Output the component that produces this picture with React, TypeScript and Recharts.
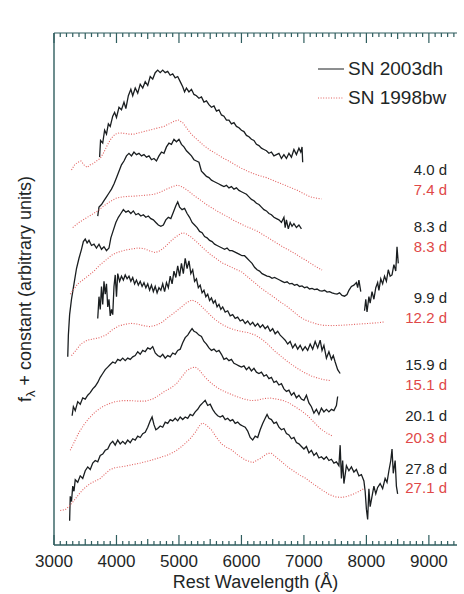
import { Legend, Line, LineChart, ReferenceLine, XAxis, YAxis } from 'recharts'

type Pt = [number, number | null]

// SN 2003dh (black) and SN 1998bw (red) spectra, wavelength (Å) vs offset flux
const SN03_4_0: Pt[] = [
  [3730, 15.15], [3745, 15.8], [3780, 15.7], [3810, 16.2], [3840, 16.05], [3870, 16.45], [3900, 16.35],
  [3940, 16.75], [3970, 16.9], [4000, 16.7], [4040, 17.1], [4080, 17.0], [4120, 17.3], [4150, 17.05],
  [4190, 17.55], [4230, 17.8], [4260, 17.55], [4300, 17.85], [4340, 17.65], [4380, 18.0], [4420, 17.85],
  [4460, 18.1], [4500, 17.95], [4540, 18.3], [4580, 18.2], [4620, 18.45], [4660, 18.55], [4700, 18.45],
  [4740, 18.55], [4780, 18.45], [4820, 18.5], [4860, 18.35], [4900, 18.4], [4940, 18.25], [4980, 18.3],
  [5020, 18.1], [5060, 17.9], [5090, 17.7], [5120, 17.85], [5160, 17.7], [5200, 17.8], [5240, 17.6],
  [5280, 17.55], [5320, 17.45], [5360, 17.5], [5400, 17.3], [5440, 17.35], [5480, 17.2], [5520, 17.1],
  [5560, 17.15], [5600, 16.95], [5640, 17.0], [5680, 16.8], [5720, 16.75], [5760, 16.6], [5800, 16.6],
  [5840, 16.45], [5880, 16.5], [5920, 16.35], [5960, 16.3], [6000, 16.2], [6040, 16.15], [6080, 16.0],
  [6120, 15.95], [6160, 15.85], [6200, 15.8], [6240, 15.65], [6280, 15.6], [6320, 15.5], [6360, 15.45],
  [6400, 15.4], [6440, 15.3], [6480, 15.35], [6520, 15.2], [6560, 15.25], [6600, 15.3], [6640, 15.1],
  [6680, 15.25], [6720, 15.1], [6760, 15.3], [6800, 15.15], [6840, 15.45], [6880, 15.25], [6920, 15.5],
  [6950, 15.35], [6970, 15.55], [6980, 14.95],
]

const SN98_7_4: Pt[] = [
  [3280, 14.65], [3330, 14.85], [3380, 14.95], [3430, 15.0], [3480, 14.85], [3530, 14.75], [3580, 14.85],
  [3630, 14.9], [3680, 15.0], [3740, 15.1], [3800, 15.35], [3860, 15.65], [3920, 15.9], [3980, 16.05],
  [4050, 16.1], [4120, 16.08], [4200, 16.05], [4280, 16.05], [4360, 16.1], [4440, 16.15], [4520, 16.2],
  [4600, 16.25], [4680, 16.3], [4760, 16.35], [4840, 16.45], [4920, 16.55], [4990, 16.6], [5060, 16.5],
  [5120, 16.3], [5180, 16.1], [5240, 15.95], [5300, 15.82], [5400, 15.6], [5500, 15.42], [5600, 15.28],
  [5700, 15.12], [5800, 15.0], [5900, 14.85], [6000, 14.72], [6100, 14.6], [6200, 14.5], [6300, 14.42],
  [6400, 14.35], [6500, 14.25], [6600, 14.15], [6700, 14.05], [6800, 13.95], [6900, 13.85], [7000, 13.72],
  [7100, 13.6], [7200, 13.55], [7280, 13.52],
]

const SN03_8_3: Pt[] = [
  [3700, 12.85], [3720, 13.2], [3760, 13.3], [3800, 13.45], [3840, 13.6], [3880, 13.75], [3920, 13.9],
  [3960, 14.1], [4000, 14.35], [4040, 14.6], [4080, 14.85], [4120, 15.0], [4160, 15.2], [4200, 15.3],
  [4240, 15.2], [4280, 15.35], [4320, 15.25], [4360, 15.3], [4400, 15.2], [4440, 15.25], [4480, 15.15],
  [4520, 15.2], [4560, 15.05], [4600, 15.1], [4640, 15.0], [4680, 15.2], [4720, 15.35], [4760, 15.3],
  [4800, 15.55], [4840, 15.7], [4880, 15.65], [4920, 15.85], [4960, 15.75], [5000, 15.85], [5040, 15.65],
  [5080, 15.55], [5120, 15.4], [5160, 15.3], [5200, 15.2], [5240, 15.05], [5280, 15.0], [5320, 14.95],
  [5360, 14.6], [5400, 14.5], [5440, 14.4], [5480, 14.35], [5520, 14.25], [5560, 14.2], [5600, 14.15],
  [5640, 14.1], [5680, 14.05], [5720, 14.0], [5760, 14.05], [5800, 13.95], [5840, 14.0], [5880, 13.9],
  [5920, 13.95], [5960, 13.85], [6000, 13.8], [6040, 13.75], [6080, 13.7], [6120, 13.6], [6160, 13.5],
  [6200, 13.45], [6240, 13.35], [6280, 13.3], [6320, 13.2], [6360, 13.1], [6400, 13.05], [6440, 12.95],
  [6480, 12.9], [6520, 12.8], [6560, 12.75], [6600, 12.7], [6640, 12.6], [6680, 12.8], [6700, 12.4],
  [6720, 12.7], [6750, 12.35], [6780, 12.6], [6810, 12.45], [6840, 12.55], [6880, 12.4], [6920, 12.5],
  [6960, 12.35],
]

const SN98_8_3: Pt[] = [
  [3300, 12.4], [3400, 12.6], [3500, 12.75], [3600, 12.9], [3700, 13.05], [3800, 13.25], [3900, 13.42],
  [4000, 13.55], [4100, 13.6], [4200, 13.62], [4300, 13.63], [4400, 13.65], [4500, 13.67], [4600, 13.7],
  [4700, 13.78], [4800, 13.9], [4900, 14.0], [4980, 14.06], [5060, 13.98], [5140, 13.85], [5240, 13.65],
  [5340, 13.48], [5440, 13.3], [5540, 13.15], [5640, 13.0], [5760, 12.85], [5860, 12.7], [5960, 12.58],
  [6060, 12.46], [6160, 12.36], [6260, 12.25], [6360, 12.1], [6460, 11.95], [6560, 11.8], [6660, 11.65],
  [6760, 11.52], [6860, 11.38], [6960, 11.22], [7060, 11.08], [7160, 10.92], [7290, 10.74],
]

const SN03_9_9: Pt[] = [
  [3220, 7.35], [3230, 8.2], [3250, 9.0], [3280, 9.6], [3320, 10.2], [3360, 10.8], [3400, 11.2],
  [3440, 11.55], [3470, 11.85], [3500, 11.95], [3530, 11.8], [3560, 11.9], [3600, 11.7], [3640, 11.75],
  [3680, 11.6], [3720, 11.75], [3760, 11.55], [3800, 11.65], [3840, 11.5], [3880, 11.6], [3910, 12.0],
  [3950, 12.3], [3990, 12.6], [4030, 12.8], [4070, 12.95], [4110, 13.1], [4150, 13.0], [4190, 13.05],
  [4230, 12.95], [4270, 13.05], [4310, 12.9], [4350, 12.95], [4390, 12.85], [4430, 12.9], [4470, 12.8],
  [4510, 12.85], [4550, 12.75], [4590, 12.7], [4630, 12.6], [4670, 12.5], [4710, 12.45], [4750, 12.5],
  [4790, 12.7], [4830, 12.8], [4870, 12.75], [4910, 13.0], [4950, 13.25], [4980, 13.4], [5010, 13.2],
  [5050, 13.1], [5090, 13.15], [5130, 12.95], [5170, 12.8], [5210, 12.6], [5250, 12.5], [5290, 12.4],
  [5330, 12.25], [5370, 12.2], [5410, 12.05], [5450, 12.0], [5490, 11.9], [5530, 11.85], [5570, 11.75],
  [5610, 11.7], [5650, 11.65], [5690, 11.6], [5730, 11.55], [5770, 11.6], [5810, 11.5], [5850, 11.5],
  [5890, 11.45], [5930, 11.4], [5970, 11.35], [6010, 11.3], [6050, 11.3], [6090, 11.2], [6130, 11.1],
  [6170, 11.0], [6210, 10.85], [6250, 10.75], [6290, 10.7], [6330, 10.6], [6370, 10.55], [6410, 10.5],
  [6450, 10.48], [6490, 10.42], [6530, 10.45], [6570, 10.4], [6610, 10.35], [6650, 10.3], [6690, 10.25],
  [6730, 10.28], [6770, 10.2], [6810, 10.22], [6850, 10.15], [6890, 10.18], [6930, 10.1], [6970, 10.12],
  [7010, 10.05], [7050, 10.08], [7090, 10.0], [7130, 10.02], [7170, 9.98], [7210, 10.0], [7250, 9.94],
  [7290, 9.92], [7330, 9.95], [7370, 9.88], [7410, 9.9], [7450, 9.85], [7490, 9.82], [7530, 9.8],
  [7570, 9.85], [7610, 9.75], [7650, 9.72], [7690, 9.78], [7720, 9.95], [7760, 10.1], [7800, 10.15],
  [7840, 10.25], [7860, 10.05], [7880, 10.35], [7910, 9.9], [7940, null],
  [7970, 9.15], [7990, 9.6], [8010, 9.1], [8040, 9.7], [8060, 9.45], [8090, 9.9], [8120, 9.6],
  [8150, 10.05], [8180, 10.25], [8200, 9.95], [8230, 10.4], [8260, 10.2], [8290, 10.5], [8320, 10.3],
  [8350, 10.75], [8380, 10.5], [8410, 10.55], [8440, 10.95], [8470, 10.7], [8490, 11.65], [8510, 11.0],
]

const SN98_12_2: Pt[] = [
  [3260, 9.8], [3320, 10.0], [3380, 10.2], [3460, 10.35], [3540, 10.5], [3640, 10.7], [3740, 10.95],
  [3840, 11.15], [3940, 11.35], [4040, 11.45], [4140, 11.52], [4240, 11.56], [4340, 11.6], [4440, 11.58],
  [4540, 11.48], [4620, 11.42], [4700, 11.5], [4780, 11.65], [4860, 11.85], [4940, 12.02], [5020, 12.15],
  [5060, 12.2], [5120, 12.15], [5200, 12.02], [5280, 11.85], [5360, 11.66], [5440, 11.48], [5520, 11.32],
  [5600, 11.18], [5690, 11.02], [5800, 10.9], [5900, 10.78], [6010, 10.66], [6110, 10.45], [6220, 10.23],
  [6320, 10.02], [6420, 9.85], [6520, 9.68], [6620, 9.5], [6740, 9.3], [6860, 9.06], [6940, 8.9],
  [7020, 8.79], [7120, 8.7], [7220, 8.62], [7320, 8.58], [7450, 8.57], [7580, 8.58], [7700, 8.6],
  [7820, 8.62], [7940, 8.64], [8060, 8.66], [8180, 8.68], [8300, 8.72],
]

const SN03_15_9: Pt[] = [
  [3700, 8.85], [3720, 9.7], [3740, 9.2], [3760, 10.1], [3780, 9.4], [3800, 10.3], [3820, 9.8],
  [3840, 10.2], [3860, 9.3], [3880, 9.6], [3900, 8.95], [3920, 9.2], [3940, 9.0], [3960, 10.1],
  [3980, 10.55], [4000, 9.7], [4020, 10.6], [4050, 10.3], [4080, 10.5], [4110, 10.35], [4140, 10.55],
  [4170, 10.4], [4200, 10.5], [4230, 10.3], [4260, 10.45], [4290, 10.2], [4320, 10.35], [4350, 10.15],
  [4380, 10.3], [4410, 10.1], [4440, 10.25], [4470, 10.05], [4500, 10.2], [4530, 9.95], [4560, 10.15],
  [4590, 9.9], [4620, 10.1], [4650, 9.85], [4680, 10.05], [4710, 9.95], [4740, 10.2], [4770, 9.9],
  [4800, 10.25], [4830, 10.05], [4860, 10.5], [4890, 10.2], [4920, 10.7], [4950, 10.45], [4980, 10.9],
  [5010, 10.5], [5040, 11.0], [5070, 10.6], [5100, 11.2], [5130, 10.8], [5160, 11.1], [5190, 10.6],
  [5220, 10.75], [5250, 10.3], [5280, 10.4], [5310, 10.05], [5340, 10.15], [5370, 9.85], [5400, 9.95],
  [5430, 9.7], [5460, 9.8], [5490, 9.55], [5520, 9.65], [5550, 9.45], [5580, 9.55], [5610, 9.3],
  [5640, 9.4], [5670, 9.2], [5700, 9.3], [5740, 9.1], [5780, 9.15], [5820, 8.95], [5860, 9.0],
  [5900, 8.85], [5940, 8.9], [5980, 8.75], [6020, 8.8], [6060, 8.65], [6100, 8.75], [6140, 8.6],
  [6180, 8.7], [6220, 8.55], [6260, 8.65], [6300, 8.5], [6340, 8.6], [6380, 8.45], [6420, 8.55],
  [6460, 8.35], [6500, 8.45], [6540, 8.25], [6580, 8.35], [6620, 8.2], [6660, 8.1], [6700, 8.0],
  [6740, 7.85], [6780, 7.95], [6820, 7.7], [6860, 7.85], [6900, 7.65], [6940, 7.8], [6980, 7.6],
  [7020, 7.75], [7060, 7.6], [7100, 7.85], [7140, 7.65], [7180, 7.95], [7220, 7.7], [7260, 8.0],
  [7290, 7.6], [7320, 7.8], [7360, 7.3], [7400, 7.55], [7440, 7.25], [7470, 7.4], [7500, 7.15],
  [7540, 6.85], [7580, 6.7],
]

const SN98_15_1: Pt[] = [
  [3280, 7.4], [3350, 7.6], [3430, 7.85], [3530, 8.0], [3630, 8.05], [3730, 8.1], [3830, 8.2],
  [3930, 8.4], [4030, 8.55], [4130, 8.62], [4230, 8.66], [4330, 8.63], [4430, 8.57], [4530, 8.53],
  [4630, 8.58], [4730, 8.7], [4830, 8.9], [4930, 9.08], [5030, 9.28], [5130, 9.48], [5210, 9.57],
  [5290, 9.48], [5370, 9.3], [5460, 9.08], [5580, 8.8], [5700, 8.6], [5800, 8.48], [5900, 8.4],
  [6000, 8.34], [6100, 8.3], [6220, 8.2], [6320, 8.05], [6420, 7.85], [6520, 7.6], [6620, 7.4],
  [6720, 7.2], [6820, 7.02], [6920, 6.86], [7020, 6.72], [7120, 6.6], [7220, 6.52], [7320, 6.46],
  [7420, 6.42],
]

const SN03_20_1: Pt[] = [
  [3290, 5.05], [3310, 5.4], [3340, 5.25], [3380, 5.6], [3420, 5.5], [3460, 5.75], [3500, 5.7],
  [3540, 5.85], [3580, 5.95], [3620, 6.1], [3660, 6.2], [3700, 6.35], [3740, 6.55], [3780, 6.7],
  [3820, 6.85], [3860, 6.95], [3900, 7.05], [3940, 7.15], [3980, 7.1], [4020, 7.25], [4060, 7.2],
  [4100, 7.3], [4140, 7.2], [4180, 7.3], [4220, 7.25], [4260, 7.35], [4300, 7.4], [4340, 7.55],
  [4380, 7.45], [4420, 7.6], [4460, 7.55], [4500, 7.7], [4540, 7.65], [4580, 7.75], [4620, 7.5],
  [4660, 7.4], [4700, 7.35], [4740, 7.45], [4780, 7.3], [4820, 7.4], [4860, 7.35], [4900, 7.5],
  [4940, 7.45], [4980, 7.6], [5020, 7.65], [5060, 7.9], [5100, 8.1], [5140, 8.2], [5180, 8.35],
  [5210, 8.45], [5240, 8.35], [5280, 8.3], [5320, 8.2], [5360, 8.15], [5400, 7.95], [5440, 7.85],
  [5480, 7.7], [5520, 7.6], [5560, 7.65], [5600, 7.55], [5640, 7.6], [5680, 7.45], [5720, 7.25],
  [5760, 7.3], [5800, 7.2], [5840, 7.25], [5880, 7.1], [5920, 7.05], [5960, 7.0], [6000, 6.95],
  [6040, 7.0], [6080, 6.85], [6120, 6.95], [6160, 6.8], [6200, 6.9], [6240, 6.75], [6280, 6.7],
  [6320, 6.75], [6360, 6.6], [6400, 6.65], [6440, 6.5], [6480, 6.55], [6520, 6.35], [6560, 6.4],
  [6600, 6.25], [6640, 6.3], [6680, 6.1], [6720, 6.0], [6760, 6.05], [6800, 5.85], [6840, 5.95],
  [6880, 5.75], [6920, 5.85], [6960, 5.7], [7000, 5.65], [7040, 5.85], [7080, 5.55], [7120, 5.4],
  [7160, 5.15], [7200, 5.3], [7240, 5.1], [7280, 5.35], [7320, 5.2], [7360, 5.3], [7400, 5.2],
  [7440, 5.3], [7480, 5.25], [7520, 5.45], [7540, 5.8],
]

const SN98_20_3: Pt[] = [
  [3260, 3.7], [3320, 4.0], [3400, 4.4], [3480, 4.7], [3560, 4.95], [3660, 5.2], [3760, 5.38],
  [3860, 5.5], [3980, 5.6], [4100, 5.64], [4220, 5.64], [4340, 5.62], [4460, 5.62], [4580, 5.7],
  [4680, 5.85], [4780, 6.02], [4880, 6.15], [4960, 6.3], [5040, 6.55], [5120, 6.8], [5200, 6.92],
  [5260, 6.95], [5320, 6.85], [5400, 6.6], [5480, 6.4], [5580, 6.2], [5680, 6.05], [5800, 5.92],
  [5920, 5.8], [6040, 5.7], [6160, 5.64], [6260, 5.66], [6360, 5.72], [6460, 5.74], [6560, 5.7],
  [6660, 5.65], [6760, 5.55], [6860, 5.4], [6960, 5.24], [7060, 5.05], [7160, 4.8], [7260, 4.55],
  [7360, 4.38], [7460, 4.25],
]

const SN03_27_8: Pt[] = [
  [3250, 0.95], [3260, 1.9], [3280, 1.7], [3300, 2.3], [3320, 2.1], [3340, 2.55], [3380, 2.45],
  [3420, 2.7], [3460, 2.6], [3500, 2.9], [3540, 3.05], [3580, 2.95], [3620, 3.2], [3660, 3.3],
  [3700, 3.25], [3740, 3.5], [3780, 3.55], [3820, 3.7], [3860, 3.75], [3900, 3.95], [3940, 4.05],
  [3980, 3.9], [4020, 4.1], [4060, 3.95], [4100, 4.05], [4140, 3.95], [4180, 4.1], [4220, 4.0],
  [4260, 4.15], [4300, 4.1], [4340, 4.25], [4380, 4.2], [4420, 4.35], [4460, 4.4], [4500, 4.6],
  [4540, 4.85], [4570, 5.0], [4600, 4.7], [4630, 4.5], [4660, 4.55], [4700, 4.65], [4740, 4.6],
  [4780, 4.8], [4820, 4.75], [4860, 4.9], [4900, 4.85], [4940, 4.95], [4980, 4.85], [5020, 5.0],
  [5060, 4.9], [5100, 5.0], [5140, 4.95], [5180, 5.1], [5220, 5.05], [5260, 5.2], [5300, 5.3],
  [5340, 5.45], [5380, 5.55], [5420, 5.65], [5460, 5.45], [5500, 5.5], [5540, 5.3], [5580, 5.15],
  [5620, 5.05], [5660, 5.0], [5700, 5.05], [5740, 4.9], [5780, 4.95], [5820, 4.85], [5860, 4.9],
  [5900, 4.75], [5940, 4.8], [5980, 4.7], [6020, 4.65], [6060, 4.6], [6100, 4.45], [6140, 4.2],
  [6180, 4.1], [6220, 4.25], [6260, 4.2], [6300, 4.5], [6340, 4.75], [6380, 4.95], [6410, 5.1],
  [6440, 4.95], [6480, 4.9], [6520, 4.75], [6560, 4.8], [6600, 4.6], [6640, 4.5], [6680, 4.55],
  [6720, 4.35], [6760, 4.3], [6800, 4.15], [6840, 4.2], [6880, 4.0], [6920, 3.95], [6960, 3.85],
  [7000, 3.75], [7040, 3.85], [7080, 3.6], [7120, 3.7], [7160, 3.5], [7200, 3.6], [7240, 3.4],
  [7280, 3.45], [7320, 3.35], [7360, 3.45], [7400, 3.3], [7440, 3.35], [7480, 3.2], [7520, 3.25],
  [7560, 3.1], [7580, 3.9], [7600, 2.6], [7620, 3.3], [7640, 2.4], [7680, 3.1], [7720, 2.9],
  [7760, 3.05], [7800, 2.85], [7840, 2.95], [7880, 2.7], [7920, 2.75], [7960, 2.5], [7980, 2.1],
  [8000, 1.4], [8020, 1.0], [8040, 2.2], [8060, 1.5], [8090, 1.9], [8120, 2.3], [8150, 2.0],
  [8180, 2.25], [8220, 2.4], [8260, 2.2], [8300, 2.6], [8330, 2.45], [8360, 2.9], [8390, 3.3],
  [8410, 3.75], [8430, 2.8], [8460, 3.3], [8480, 2.3], [8500, 2.0],
]

const SN98_27_1: Pt[] = [
  [3100, 1.35], [3180, 1.38], [3260, 1.55], [3340, 1.8], [3420, 2.05], [3500, 2.25], [3580, 2.4],
  [3660, 2.5], [3740, 2.6], [3820, 2.78], [3900, 2.95], [3980, 3.02], [4060, 3.05], [4140, 3.08],
  [4220, 3.12], [4300, 3.16], [4380, 3.2], [4460, 3.25], [4540, 3.3], [4620, 3.36], [4700, 3.42],
  [4780, 3.48], [4860, 3.56], [4940, 3.66], [5020, 3.8], [5100, 3.97], [5180, 4.15], [5260, 4.4],
  [5340, 4.7], [5380, 4.77], [5440, 4.68], [5520, 4.5], [5600, 4.2], [5680, 3.95], [5760, 3.82],
  [5850, 3.7], [5940, 3.52], [6060, 3.32], [6180, 3.22], [6300, 3.38], [6420, 3.58], [6480, 3.58],
  [6560, 3.42], [6660, 3.22], [6740, 3.05], [6860, 2.85], [6940, 2.72], [7020, 2.62], [7140, 2.4],
  [7290, 2.15], [7400, 1.98], [7500, 1.88], [7600, 1.86], [7700, 1.9], [7820, 2.02], [7960, 2.2],
]

const SPECTRA = [
  { id: 'dh-4.0', sn: '2003dh', pts: SN03_4_0 },
  { id: 'bw-7.4', sn: '1998bw', pts: SN98_7_4 },
  { id: 'dh-8.3', sn: '2003dh', pts: SN03_8_3 },
  { id: 'bw-8.3', sn: '1998bw', pts: SN98_8_3 },
  { id: 'dh-9.9', sn: '2003dh', pts: SN03_9_9 },
  { id: 'bw-12.2', sn: '1998bw', pts: SN98_12_2 },
  { id: 'dh-15.9', sn: '2003dh', pts: SN03_15_9 },
  { id: 'bw-15.1', sn: '1998bw', pts: SN98_15_1 },
  { id: 'dh-20.1', sn: '2003dh', pts: SN03_20_1 },
  { id: 'bw-20.3', sn: '1998bw', pts: SN98_20_3 },
  { id: 'dh-27.8', sn: '2003dh', pts: SN03_27_8 },
  { id: 'bw-27.1', sn: '1998bw', pts: SN98_27_1 },
]

// epoch labels on the right, at the level (y units) where they sit
const EPOCH_TEXT = ['4.0 d', '7.4 d', '8.3 d', '8.3 d', '9.9 d', '12.2 d', '15.9 d', '15.1 d', '20.1 d', '20.3 d', '27.8 d', '27.1 d']
const EPOCH_LEVEL = [14.65, 13.87, 12.42, 11.64, 9.65, 8.87, 7.03, 6.25, 5.04, 4.18, 3.0, 2.23]
const EPOCH_SN = ['2003dh', '1998bw', '2003dh', '1998bw', '2003dh', '1998bw', '2003dh', '1998bw', '2003dh', '1998bw', '2003dh', '1998bw']

const X_TICKS = Array.from({ length: 65 }, (_, i) => 3000 + i * 100)
const Y_TICKS = Array.from({ length: 19 }, (_, i) => i + 1)

const FONT = '"Liberation Sans", Arial, Helvetica, sans-serif'
const AXIS = '#2f5d5e'
const TEXT = '#1e2626'
const BLACK = '#1a1e20'
const RED = '#e2605f'
const LABEL_RED = '#e04848'

const STYLE: Record<string, { stroke: string; dash?: string; width: number }> = {
  '2003dh': { stroke: BLACK, width: 1.3 },
  '1998bw': { stroke: RED, dash: '1 1.6', width: 1.1 },
}

const toRows = (pts: Pt[]) => pts.map(([w, f]) => ({ w, f }))

function BottomTick({ x, y, payload }: any) {
  const v = payload.value as number
  const len = v % 1000 === 0 ? 10 : v % 500 === 0 ? 6 : 4
  return (
    <g>
      <line x1={x} x2={x} y1={y} y2={y - len} stroke={AXIS} strokeWidth={1.2} />
      {v % 1000 === 0 && (
        <text x={x} y={y + 22} textAnchor="middle" fontFamily={FONT} fontSize={17} fill={TEXT}>
          {v}
        </text>
      )}
    </g>
  )
}

function TopTick({ x, y, payload }: any) {
  const v = payload.value as number
  const len = v % 1000 === 0 ? 10 : v % 500 === 0 ? 6 : 4
  return <line x1={x} x2={x} y1={y} y2={y + len} stroke={AXIS} strokeWidth={1.2} />
}

function XTitle({ viewBox }: any) {
  return (
    <text x={viewBox.x + viewBox.width / 2} y={viewBox.y + 43} textAnchor="middle" fontFamily={FONT} fontSize={18} fill={TEXT}>
      Rest Wavelength (Å)
    </text>
  )
}

function YTitle({ viewBox }: any) {
  const cx = viewBox.x - 29
  const cy = viewBox.y + viewBox.height / 2
  return (
    <text
      x={cx}
      y={cy}
      transform={`rotate(-90 ${cx} ${cy})`}
      textAnchor="middle"
      dominantBaseline="central"
      fontFamily={FONT}
      fontSize={18}
      fill={TEXT}
    >
      f<tspan dy={5} fontSize={13}>λ</tspan>
      <tspan dy={-5}> + constant (arbitrary units)</tspan>
    </text>
  )
}

function LegendBox() {
  return (
    <div style={{ fontFamily: FONT, fontSize: 19, color: TEXT }}>
      {['2003dh', '1998bw'].map((sn) => (
        <div key={sn} style={{ display: 'flex', alignItems: 'center', height: 29 }}>
          <svg width={32} height={10}>
            <line x1={2} x2={28} y1={5} y2={5} stroke={STYLE[sn].stroke} strokeWidth={1} strokeDasharray={STYLE[sn].dash} />
          </svg>
          <span>SN {sn}</span>
        </div>
      ))}
    </div>
  )
}

export default function App() {
  return (
    <div style={{ position: 'absolute', left: 0, top: 0, width: 464, height: 594, background: '#fff' }}>
      <LineChart width={464} height={594} margin={{ top: 32, right: 6, bottom: 48, left: 54 }}>
        <XAxis
          dataKey="w"
          type="number"
          domain={[3000, 9450]}
          allowDataOverflow
          ticks={X_TICKS}
          interval={0}
          height={1}
          tickSize={0}
          tickMargin={0}
          tickLine={false}
          tick={<BottomTick />}
          stroke={AXIS}
          strokeWidth={1.4}
          label={<XTitle />}
        />
        <XAxis
          xAxisId="top"
          orientation="top"
          dataKey="w"
          type="number"
          domain={[3000, 9450]}
          allowDataOverflow
          ticks={X_TICKS}
          interval={0}
          height={1}
          tickSize={0}
          tickMargin={0}
          tickLine={false}
          tick={<TopTick />}
          stroke={AXIS}
          strokeWidth={1.2}
        />
        <YAxis
          type="number"
          domain={[0, 20]}
          ticks={Y_TICKS}
          interval={0}
          width={1}
          mirror
          tickSize={5}
          tick={false}
          stroke={AXIS}
          strokeWidth={1.4}
          label={<YTitle />}
        />
        <YAxis
          yAxisId="r"
          orientation="right"
          type="number"
          domain={[0, 20]}
          ticks={Y_TICKS}
          interval={0}
          width={1}
          tickSize={5}
          tick={false}
          axisLine={false}
          stroke={AXIS}
        />
        <Legend
          layout="horizontal"
          verticalAlign="middle"
          align="center"
          content={<LegendBox />}
          wrapperStyle={{ top: 54, left: 316, width: 150 }}
        />
        {EPOCH_TEXT.map((t, i) => (
          <ReferenceLine
            key={`${t}-${i}`}
            y={EPOCH_LEVEL[i]}
            stroke="none"
            label={{
              value: t,
              position: 'insideRight',
              offset: 10,
              fill: EPOCH_SN[i] === '2003dh' ? TEXT : LABEL_RED,
              fontSize: 15,
              fontFamily: FONT,
            }}
          />
        ))}
        {SPECTRA.map((s) => (
          <Line
            key={s.id}
            data={toRows(s.pts)}
            dataKey="f"
            type="linear"
            stroke={STYLE[s.sn].stroke}
            strokeWidth={STYLE[s.sn].width}
            strokeDasharray={STYLE[s.sn].dash}
            dot={false}
            activeDot={false}
            isAnimationActive={false}
          />
        ))}
      </LineChart>
    </div>
  )
}
